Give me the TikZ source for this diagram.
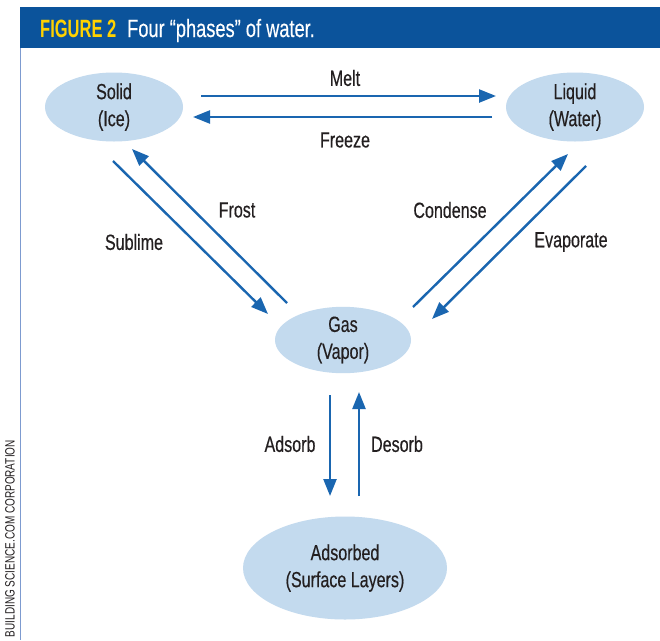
\documentclass[tikz,border=0pt]{standalone}
\usepackage{fontspec}
\setmainfont{Liberation Sans}[FakeStretch=0.73,FakeBold=0.4]
\newfontfamily\titlefont{Liberation Sans}[FakeStretch=0.73,FakeBold=0.3]
\newfontfamily\titlebold{Liberation Sans Bold}[FakeStretch=0.66]
\newfontfamily\creditfont{Liberation Sans}[FakeStretch=0.74]
\usetikzlibrary{shapes.geometric,arrows.meta}
\definecolor{barblue}{HTML}{0B539B}
\definecolor{arrowblue}{HTML}{1A66B0}
\definecolor{ellfill}{HTML}{C3DAEE}
\definecolor{txt}{HTML}{231F20}
\definecolor{figyellow}{HTML}{FFD200}
\definecolor{rule}{HTML}{7D9BD0}
\tikzset{
  phase/.style={ellipse, fill=ellfill, inner sep=0pt, align=center, text=txt,
    font=\fontsize{22}{27}\selectfont},
  flow/.style={draw=arrowblue, line width=2.4pt, -{Triangle[length=17pt,width=13pt]}},
  lbl/.style={text=txt, font=\fontsize{22}{24}\selectfont, inner sep=0pt}
}
\begin{document}
\begin{tikzpicture}[x=1pt,y=-1pt]
\useasboundingbox (0,0) rectangle (660,640);
\clip (0,0) rectangle (660,640);
\fill[white] (0,0) rectangle (660,640);
% title bar
\fill[barblue] (20,7) rectangle (660,48);
\node[anchor=base west, inner sep=0pt, text=figyellow, font=\titlebold\fontsize{25}{28}\selectfont] (figno) at (40,37) {FIGURE 2};
\node[anchor=base west, inner sep=0pt, text=white, font=\titlefont\fontsize{25}{28}\selectfont] (title) at (127,37) {Four “phases” of water.};
% left rule
\draw[rule, line width=0.8pt] (20,48) -- (20,640);
\node[rotate=90, anchor=east, inner sep=0pt, text=txt, font=\creditfont\fontsize{13.5}{15}\selectfont] (credit) at (10,440) {BUILDING SCIENCE.COM CORPORATION};
% phases
\node[phase, minimum width=138pt, minimum height=69pt] (solid) at (114,107) {Solid\\(Ice)};
\node[phase, minimum width=138pt, minimum height=69pt] (liquid) at (575,107) {Liquid\\(Water)};
\node[phase, minimum width=136pt, minimum height=66pt] (gas) at (343,340) {Gas\\(Vapor)};
\node[phase, minimum width=204pt, minimum height=103pt] (ads) at (345,568) {Adsorbed\\(Surface Layers)};
% endpoints
\coordinate (m1) at (201,96); \coordinate (m2) at (496,96);
\coordinate (f1) at (492,117); \coordinate (f2) at (193,117);
\coordinate (s1) at (113,161); \coordinate (s2) at (268,314);
\coordinate (r1) at (287,303); \coordinate (r2) at (132,149);
\coordinate (c1) at (413,307); \coordinate (c2) at (568,154);
\coordinate (e1) at (586,166); \coordinate (e2) at (432,319);
\coordinate (a1) at (330,395); \coordinate (a2) at (330,496);
\coordinate (d1) at (359,496); \coordinate (d2) at (359,392);
\draw[flow] (m1) -- (m2);
\draw[flow] (f1) -- (f2);
\draw[flow] (s1) -- (s2);
\draw[flow] (r1) -- (r2);
\draw[flow] (c1) -- (c2);
\draw[flow] (e1) -- (e2);
\draw[flow] (a1) -- (a2);
\draw[flow] (d1) -- (d2);
% labels
\node[lbl] (lmelt) at (345,78) {Melt};
\node[lbl] (lfreeze) at (345,140) {Freeze};
\node[lbl] (lsub) at (134,242) {Sublime};
\node[lbl] (lfrost) at (237,210) {Frost};
\node[lbl] (lcond) at (450,210) {Condense};
\node[lbl] (levap) at (571,242) {Evaporate};
\node[lbl] (lads) at (290,444) {Adsorb};
\node[lbl] (ldes) at (397,444) {Desorb};
\end{tikzpicture}
\end{document}
